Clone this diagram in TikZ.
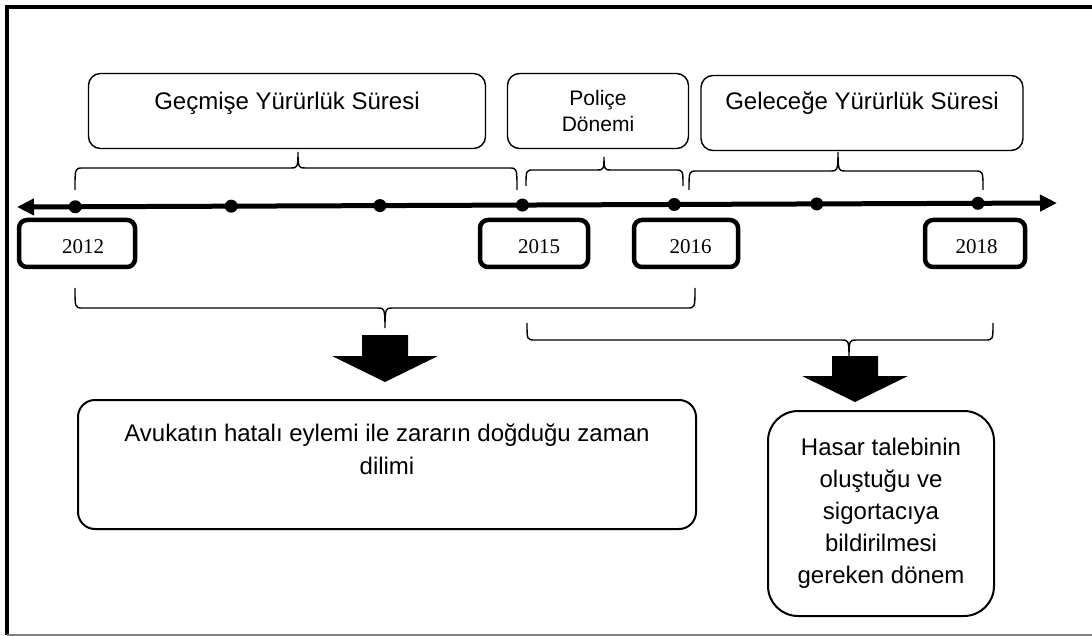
\documentclass[tikz,border=0pt]{standalone}
\usepackage{fontspec}
\setmainfont{Liberation Sans}
\newfontfamily\yilfont{Liberation Serif}
\usetikzlibrary{arrows.meta}

\tikzset{
  ustkutu/.style={draw, line width=1.4pt, rounded corners=12pt, align=center,
    minimum height=75pt, font=\fontsize{24}{30}\selectfont},
  yilkutu/.style={draw, line width=4.5pt, rounded corners=8pt, minimum height=47pt,
    text height=20pt, text depth=0pt, font=\yilfont\fontsize{21}{24}\selectfont},
  nokta/.style={circle, fill, inner sep=0pt, minimum size=13pt},
  kalem/.style={line width=1.4pt},
  altkutu/.style={draw, line width=2pt, align=center, font=\fontsize{24}{32}\selectfont},
}

% x1, x2, uc x, uclarin y, yatay y, sivri uc y
\newcommand{\parantez}[6]{%
  \draw[kalem] (#1,#4) .. controls (#1,#5) and (#1,#5) .. (#1+8,#5) -- (#3-7,#5)
    .. controls (#3-1,#5) and (#3,#5) .. (#3,#6)
    .. controls (#3,#5) and (#3+1,#5) .. (#3+7,#5) -- (#2-8,#5)
    .. controls (#2,#5) and (#2,#5) .. (#2,#4);}

\begin{document}
\begin{tikzpicture}[x=1pt,y=-1pt]
\useasboundingbox (0,0) rectangle (1092,636);

% cerceve
\draw[line width=4pt] (1092,7) -- (7,7) -- (7,635);
\draw[gray, line width=1.5pt] (7,635) -- (1092,635);

% zaman cizgisi
\coordinate (bas) at (17,207);
\coordinate (son) at (1057,203);
\draw[line width=5pt, {Triangle[length=17pt,width=16pt]}-{Triangle[length=17pt,width=16pt]}] (bas) -- (son)
  node[nokta, pos=0.056] (d2012) {}
  node[nokta, pos=0.206] (d2013) {}
  node[nokta, pos=0.349] (d2014) {}
  node[nokta, pos=0.486] (d2015) {}
  node[nokta, pos=0.632] (d2016) {}
  node[nokta, pos=0.769] (d2017) {}
  node[nokta, pos=0.924] (d2018) {};

\node[yilkutu, minimum width=116pt] (y2012) at (77,243.5) {\hspace*{12pt}2012};
\node[yilkutu, minimum width=108pt] (y2015) at (534,243.5) {\hspace*{10pt}2015};
\node[yilkutu, minimum width=104pt] (y2016) at (686,243.5) {\hspace*{9pt}2016};
\node[yilkutu, minimum width=100pt] (y2018) at (975,243.5) {\hspace*{3pt}2018};

% ust kutular
\node[ustkutu, minimum width=397pt, text height=17pt, text depth=19pt] (gecmis) at (287,111) {Geçmişe Yürürlük Süresi};
\node[ustkutu, minimum width=181pt, font=\fontsize{21}{26}\selectfont] (police) at (598,111) {Poliçe\\Dönemi};
\node[ustkutu, minimum width=322pt, text height=17pt, text depth=23pt] (gelecek) at (862,113) {Geleceğe Yürürlük Süresi};

\parantez{75}{517}{298}{190}{168}{152}
\parantez{526}{683}{604}{186}{170}{157}
\parantez{689}{983}{838}{190}{171}{152}

% alt parantezler
\parantez{75}{695}{385}{288}{308}{328}
\parantez{527}{993}{849}{323}{340}{357}

\coordinate (okA) at (385,382);
\coordinate (okB) at (855,402);
\fill (okA) -- ++(-53,-26) -- ++(30,0) -- ++(0,-21) -- ++(46,0) -- ++(0,21) -- ++(30,0) -- cycle;
\fill (okB) -- ++(-53,-26) -- ++(30,0) -- ++(0,-20) -- ++(46,0) -- ++(0,20) -- ++(30,0) -- cycle;

% alt kutular
\node[altkutu, rounded corners=17pt, minimum width=618pt, minimum height=129pt, font=\fontsize{24}{33}\selectfont, text depth=30pt] (zarar) at (387,464.5) {Avukatın hatalı eylemi ile zararın doğduğu zaman\\dilimi};
\node[altkutu, rounded corners=30pt, minimum width=226pt, minimum height=205pt] (hasar) at (881,513.5) {Hasar talebinin\\oluştuğu ve\\sigortacıya\\bildirilmesi\\gereken dönem};

\end{tikzpicture}
\end{document}
